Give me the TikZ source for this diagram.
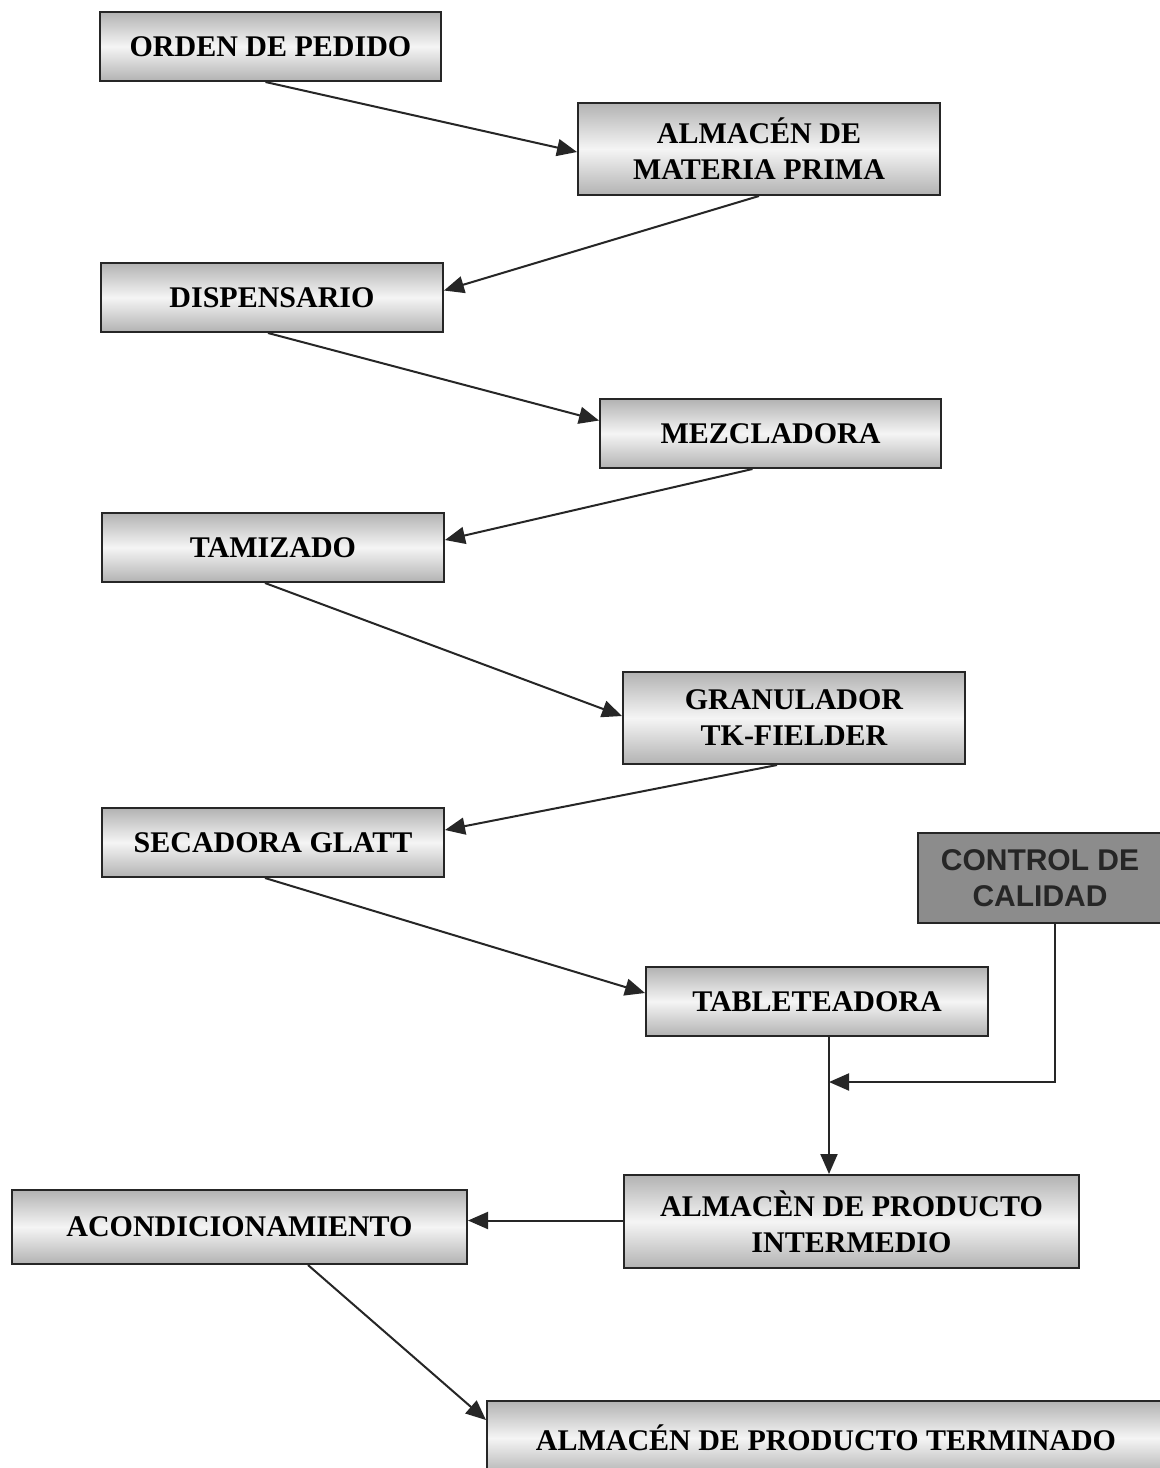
\documentclass[tikz,border=0pt]{standalone}
\usepackage{fontspec}
\setmainfont{Liberation Serif}
\newfontfamily\arialbold{Liberation Sans}
\usetikzlibrary{arrows.meta}
\tikzset{
  box/.style={draw=black!85, line width=1pt, rectangle, top color=gray!60, bottom color=gray!60, middle color=gray!8,
    font=\fontsize{15}{18}\selectfont\bfseries, align=center, inner sep=0pt, text=black},
  qbox/.style={draw=black!85, line width=1pt, rectangle, fill=black!45,
    font=\arialbold\fontsize{15}{18}\selectfont\bfseries, align=center, inner sep=0pt, text=black!85},
  conn/.style={draw=black!85, line width=1pt, -{Triangle[length=10pt,width=8.5pt]}},
}
\begin{document}
\begin{tikzpicture}[x=0.5pt,y=-0.5pt]
\useasboundingbox[fill=white] (0,0) rectangle (1160,1468);
\node[box, minimum width=170.5pt, minimum height=34.5pt] (n1) at (270.5,46.5) {ORDEN DE PEDIDO};
\node[box, minimum width=181pt, minimum height=46pt] (n2) at (759,149) {ALMACÉN DE\\MATERIA PRIMA};
\node[box, minimum width=171pt, minimum height=34.5pt] (n3) at (272,297.5) {DISPENSARIO};
\node[box, minimum width=170.5pt, minimum height=34.5pt] (n4) at (770.5,433.5) {MEZCLADORA};
\node[box, minimum width=171pt, minimum height=34.5pt] (n5) at (273,547.5) {TAMIZADO};
\node[box, minimum width=171pt, minimum height=46pt] (n6) at (794,718) {GRANULADOR\\TK-FIELDER};
\node[box, minimum width=171pt, minimum height=34.5pt] (n7) at (273,842.5) {SECADORA GLATT};
\node[qbox, minimum width=122pt, minimum height=45pt] (n8) at (1040,878) {CONTROL DE\\CALIDAD};
\node[box, minimum width=171pt, minimum height=34.5pt] (n9) at (817,1001.5) {TABLETEADORA};
\node[box, minimum width=227.5pt, minimum height=46.5pt] (n10) at (851.5,1221.5) {ALMACÈN DE PRODUCTO\\INTERMEDIO};
\node[box, minimum width=227.5pt, minimum height=37pt] (n11) at (239.5,1227) {ACONDICIONAMIENTO};
\node[box, minimum width=339pt, minimum height=37pt] (n12) at (826,1438) {ALMACÉN DE PRODUCTO TERMINADO};
\coordinate (j) at (829,1082);

\draw[conn] ([xshift=-2.5pt]n1.south) -- ([yshift=-1.5pt]n2.west);
\draw[conn] (n2.south) -- ([yshift=3.5pt]n3.east);
\draw[conn] ([xshift=-2pt]n3.south) -- ([yshift=6.5pt]n4.west);
\draw[conn] ([xshift=-9pt]n4.south) -- ([yshift=3.75pt]n5.east);
\draw[conn] ([xshift=-4pt]n5.south) -- ([yshift=1pt]n6.west);
\draw[conn] ([xshift=-8.5pt]n6.south) -- ([yshift=6.25pt]n7.east);
\draw[conn] ([xshift=-4pt]n7.south) -- ([yshift=4.25pt]n9.west);
\draw[conn] ([xshift=6pt]n9.south) -- ([xshift=6pt]n9.south |- n10.north);
\draw[conn] ([xshift=7.5pt]n8.south) |- (j);
\draw[conn] ([yshift=0.5pt]n10.west) -- ([yshift=0.5pt]n10.west -| n11.east);
\draw[conn] ([xshift=34.25pt]n11.south) -- ([yshift=9pt]n12.west);
\end{tikzpicture}
\end{document}
